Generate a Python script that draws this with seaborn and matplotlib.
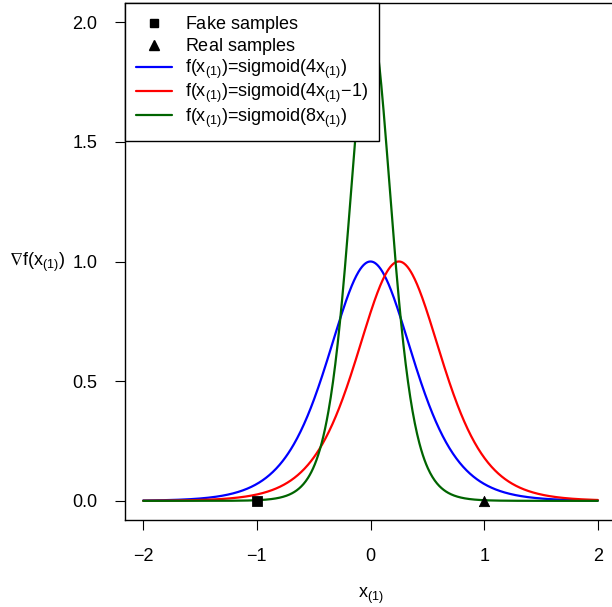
import numpy as np
import pandas as pd
import matplotlib
matplotlib.use("Agg")
import matplotlib.pyplot as plt
from matplotlib.lines import Line2D
import seaborn as sns

# ---- data ----
labels = ["f(x$_{(1)}$)=sigmoid(4x$_{(1)}$)",
          "f(x$_{(1)}$)=sigmoid(4x$_{(1)}$\u22121)",
          "f(x$_{(1)}$)=sigmoid(8x$_{(1)}$)"]
sample_labels = ["Fake samples", "Real samples"]
slopes = [4, 4, 8]
offsets = [0, -1, 0]
colors = ["#0000FF", "#FF0000", "#006400"]
fake_x = [-1.0]
fake_y = [0.0]
real_x = [1.0]
real_y = [0.0]
xticks = [-2, -1, 0, 1, 2]
yticks = [0.0, 0.5, 1.0, 1.5, 2.0]

FS = 13

sns.set_style("white")
plt.rcParams["font.family"] = ["Liberation Sans", "DejaVu Sans"]
plt.rcParams["mathtext.fontset"] = "custom"
plt.rcParams["mathtext.rm"] = "Liberation Sans"
plt.rcParams["mathtext.it"] = "Liberation Sans"
plt.rcParams["mathtext.sf"] = "Liberation Sans"
plt.rcParams["mathtext.default"] = "regular"
plt.rcParams["text.color"] = "black"
plt.rcParams["xtick.labelcolor"] = "black"
plt.rcParams["ytick.labelcolor"] = "black"

xs = np.linspace(-2, 2, 801)
frames = []
for lab, a, b in zip(labels, slopes, offsets):
    s = 1.0 / (1.0 + np.exp(-(a * xs + b)))
    frames.append(pd.DataFrame({"x": xs, "y": a * s * (1 - s), "f": lab}))
df = pd.concat(frames, ignore_index=True)

fig = plt.figure(figsize=(6.12, 6.07), dpi=100)
ax = fig.add_axes([125 / 612, 87 / 607, 491 / 612, 517 / 607])

sns.lineplot(data=df, x="x", y="y", hue="f", palette=colors, hue_order=labels,
             linewidth=1.6, legend=False, ax=ax, estimator=None, sort=False)
sns.scatterplot(x=fake_x, y=fake_y, marker="s", color="black", s=50,
                edgecolor="black", ax=ax, zorder=5)
sns.scatterplot(x=real_x, y=real_y, marker="^", color="black", s=55,
                edgecolor="black", ax=ax, zorder=5)

ax.set_xlim(-2.16, 2.16)
ax.set_ylim(-0.08, 2.08)
ax.set_xticks(xticks)
ax.set_xticklabels([("\u2212" + str(-t)) if t < 0 else str(t) for t in xticks])
ax.set_yticks(yticks)
ax.set_yticklabels([f"{t:.1f}" for t in yticks])
ax.tick_params(axis="x", direction="out", length=7, width=0.8, pad=13,
               labelsize=FS, color="black", labelcolor="black")
ax.tick_params(axis="y", direction="out", length=7, width=0.8, pad=13,
               labelsize=FS, color="black", labelcolor="black")
ax.tick_params(bottom=True, left=True)
for sp in ax.spines.values():
    sp.set_color("black")
    sp.set_linewidth(1.0)
ax.set_xlabel("")
ax.set_ylabel("")

fig.text(37 / 612, (607 - 262) / 607, r"$\nabla$f(x$_{(1)}$)",
         ha="center", va="center", fontsize=FS, color="black")
fig.text(371 / 612, (607 - 596) / 607, "x$_{(1)}$",
         ha="center", va="center", fontsize=FS, color="black")

handles = [Line2D([], [], marker="s", color="black", ls="none", markersize=6),
           Line2D([], [], marker="^", color="black", ls="none", markersize=6.5)]
handles += [Line2D([], [], color=c, lw=1.6) for c in colors]
leg_labels = [lab + r"$_{\ }$" for lab in sample_labels] + labels
leg = ax.legend(handles, leg_labels, loc="upper left", bbox_to_anchor=(0, 1),
                borderaxespad=0, frameon=True, fancybox=False, fontsize=FS,
                handlelength=2.0, handletextpad=0.75, labelspacing=0.06,
                borderpad=0.6, framealpha=1)
leg.get_frame().set_edgecolor("black")
leg.get_frame().set_linewidth(1.0)
leg.set_zorder(10)

fig.savefig("out.png", dpi=100)
